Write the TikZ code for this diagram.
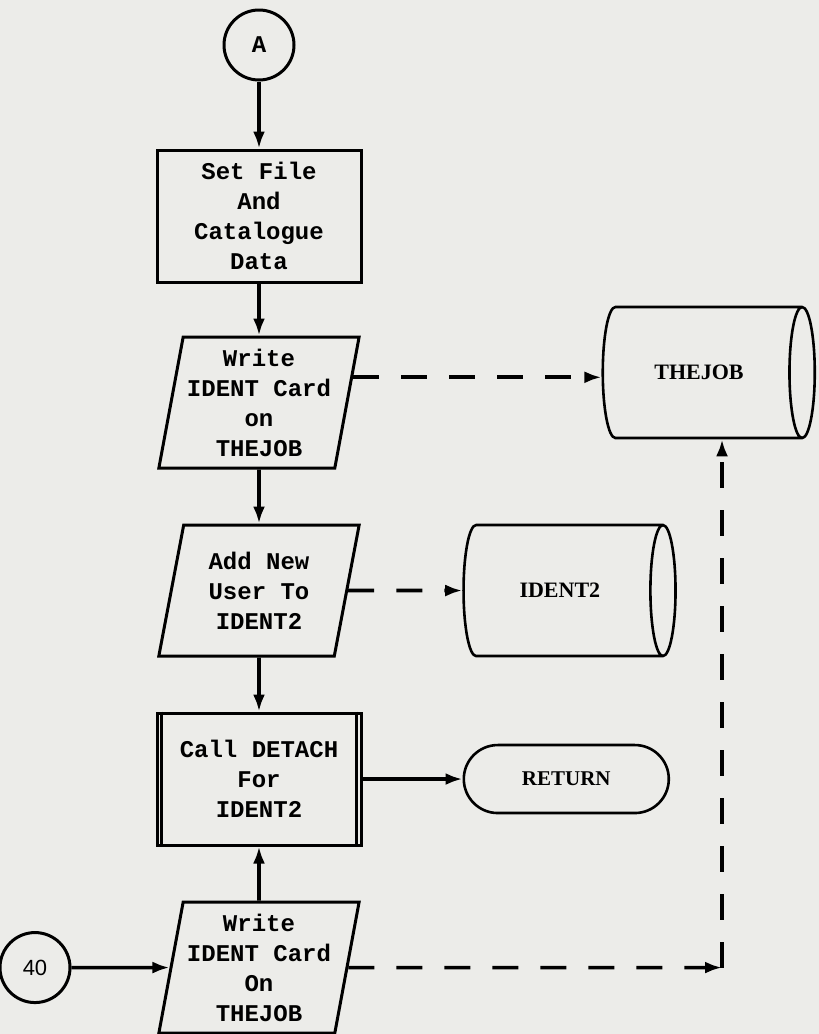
\documentclass[tikz,border=0pt]{standalone}
\usepackage{fontspec}
\setmainfont{Liberation Serif}
\setsansfont{Liberation Sans}
\setmonofont{Liberation Mono}
\usetikzlibrary{arrows.meta,positioning,shapes.geometric,calc}
\definecolor{paper}{RGB}{236,236,233}

\begin{document}
\begin{tikzpicture}[
  font=\fontsize{12}{15}\selectfont\ttfamily\bfseries,
  procbox/.style={
    draw, line width=1.5pt, align=center, inner sep=1pt,
    minimum width=102pt, minimum height=66pt
  },
  iobox/.style={
    draw, line width=1.5pt, align=center, inner sep=1pt,
    trapezium, trapezium left angle=78, trapezium right angle=102,
    trapezium stretches=true, minimum width=100.5pt, minimum height=65.5pt
  },
  storebox/.style={
    draw, line width=1.3pt, cylinder, aspect=0.9,
    minimum height=106pt, minimum width=65.5pt,
    font=\fontsize{11}{13}\selectfont\rmfamily\bfseries
  },
  termbox/.style={
    draw, line width=1.3pt, rounded corners=17pt,
    minimum width=102.5pt, minimum height=34pt,
    font=\fontsize{10.5}{13}\selectfont\rmfamily\bfseries
  },
  connbox/.style={draw, circle, line width=1.5pt, minimum size=35pt, inner sep=0pt},
  arr/.style={-{Latex[length=8.5pt,width=6pt]}, line width=1.8pt},
  dasharr/.style={arr, dash pattern=on 13pt off 11pt}
]
\fill[paper] (0,0) rectangle (409.5pt,-517pt);
\useasboundingbox (0,0) rectangle (409.5pt,-517pt);

% main column
\node[connbox] (a) at (129.5pt,-22.5pt) {A};
\node[procbox, below=33.5pt of a] (setfile) {Set File\\And\\Catalogue\\Data};
\node[iobox, below=26pt of setfile] (write1) {Write\\IDENT Card\\on\\THEJOB};
\node[iobox, below=27pt of write1] (adduser) {Add New\\User To\\IDENT2};
\node[procbox, below=27pt of adduser] (detach) {Call DETACH\\For\\IDENT2};
\node[iobox, below=27pt of detach] (write2) {Write\\IDENT Card\\On\\THEJOB};
\draw[line width=1.2pt] ([xshift=3pt]detach.north west) -- ([xshift=3pt]detach.south west)
  ([xshift=-3pt]detach.north east) -- ([xshift=-3pt]detach.south east);

% files and exits
\node[storebox, right=126.5pt of write1, yshift=15pt] (thejob) {THEJOB};
\node[storebox, right=57pt of adduser] (ident2) {IDENT2};
\node[termbox, right=50pt of detach] (ret) {RETURN};
\node[connbox, left=49pt of write2, font=\fontsize{11}{13}\selectfont\sffamily] (c40) {40};
\coordinate (corner) at ([xshift=11.5pt]thejob.south |- write2.east);

\draw[arr] (a) -- (setfile);
\draw[arr] (setfile) -- (write1);
\draw[arr] (write1) -- (adduser);
\draw[arr] (adduser) -- (detach);
\draw[arr] (write2) -- (detach);
\draw[arr] (detach) -- (ret);
\draw[arr] (c40) -- (write2);

\draw[dasharr] (write1.15) -- (write1.15 -| thejob.west);
\draw[dasharr] (adduser) -- (adduser -| ident2.west);
\draw[dasharr] (write2) -- (corner);
\draw[dasharr] (corner) -- (corner |- thejob.south);
\end{tikzpicture}
\end{document}
